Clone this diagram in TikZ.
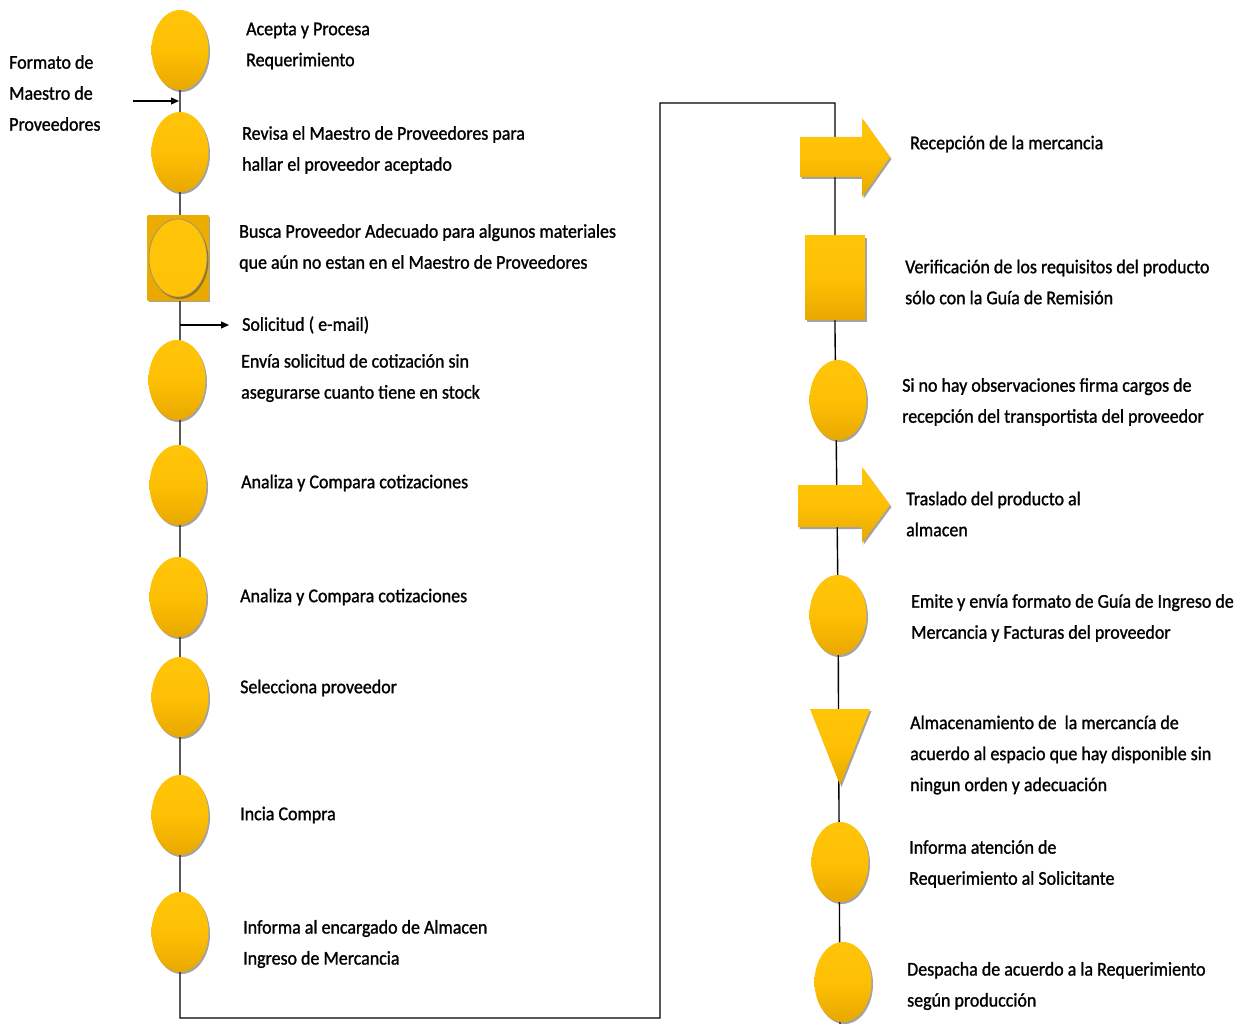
\documentclass[tikz,border=0pt]{standalone}
\usepackage{fontspec}
\setmainfont{Carlito}[FakeStretch=0.92,FakeBold=1.2]
\usetikzlibrary{arrows.meta,shapes.geometric,shadows}
\definecolor{goldtop}{RGB}{255,196,8}
\definecolor{goldmid}{RGB}{254,192,4}
\definecolor{goldbot}{RGB}{232,168,0}
\definecolor{golddeep}{RGB}{236,172,0}
\tikzset{
  gshadow/.style={drop shadow={shadow xshift=1.5pt,shadow yshift=-2pt,opacity=0.45,fill=black!80}},
  goldfill/.style={top color=goldtop,bottom color=goldbot,middle color=goldmid},
  ell/.style={ellipse,minimum width=57pt,minimum height=80pt,inner sep=0pt,goldfill,gshadow},
  sq/.style={rectangle,inner sep=0pt,goldfill,gshadow},
  lbl/.style={anchor=west,align=left,inner sep=0pt,
    font=\fontsize{19.5}{31}\selectfont},
  conn/.style={line width=1.4pt,black},
  tip/.style={-{Triangle[length=8pt,width=7pt]}},
  shp/.style={goldfill,gshadow},
}
\begin{document}
\begin{tikzpicture}[x=1pt,y=-1pt]
\useasboundingbox (0,0) rectangle (1245,1024);

% ---- main flow line
\coordinate (l0) at (180,40);
\coordinate (l1) at (180,1018);
\coordinate (r0) at (660,103);
\coordinate (r1) at (835,103);
\coordinate (rend) at (840,1024);
\draw[conn] (l0) -- (l1) -- (660,1018) -- (r0) -- (r1) -- (835,330) -- (838,600) -- (rend);

% ---- left column
\node[ell] (c1) at (180,50) {};
\node[ell] (c2) at (180,152) {};
\node[sq,minimum width=61pt,minimum height=85pt,top color=golddeep,bottom color=goldbot,middle color=golddeep] (b3) at (178,258) {};
\node[ell,minimum width=58pt,minimum height=78pt,draw=black!45,line width=0.6pt,
  top color=goldtop,bottom color=goldmid,middle color=goldtop] (c3) at (178,258) {};
\node[ell] (c4) at (177,380) {};
\node[ell] (c5) at (178,485) {};
\node[ell] (c6) at (178,597) {};
\node[ell] (c7) at (180,697) {};
\node[ell] (c8) at (180,815) {};
\node[ell] (c9) at (180,932) {};

% side inputs and outputs
\coordinate (in0) at (133,101);
\coordinate (in1) at (179,101);
\draw[conn,line width=1.1pt,tip] (in0) -- (in1);
\coordinate (out0) at (180,325);
\coordinate (out1) at (229,325);
\draw[conn,line width=1.1pt,tip] (out0) -- (out1);

% ---- right column
\path[shp] (800,137) -- (862,137) -- (862,118) -- (890,157) -- (862,197) -- (862,177) -- (800,177) -- cycle;
\node[sq,minimum width=60pt,minimum height=84pt] (s2) at (835,278) {};
\node[ell] (d3) at (838,400) {};
\path[shp] (798,485) -- (862,485) -- (862,467) -- (890,505) -- (862,543) -- (862,527) -- (798,527) -- cycle;
\node[ell] (d5) at (838,615) {};
\path[shp] (810,709) -- (870,709) -- (840,785) -- cycle;
\node[ell] (d7) at (840,862) {};
\node[ell] (d8) at (843,982) {};

% ---- labels
\node[lbl] (t0) at (9,93) {Formato de\\Maestro de\\Proveedores};
\node[lbl] (t1) at (246,46) {Acepta y Procesa\\Requerimiento};
\node[lbl] (t2) at (242,150) {Revisa el Maestro de Proveedores para\\hallar el proveedor aceptado};
\node[lbl] (t3) at (239,248) {Busca Proveedor Adecuado para algunos materiales\\que aún no estan en el Maestro de Proveedores};
\node[lbl] (t4) at (242,325) {Solicitud ( e-mail)};
\node[lbl] (t5) at (241,378) {Envía solicitud de cotización sin\\asegurarse cuanto tiene en stock};
\node[lbl] (t6) at (241,483) {Analiza y Compara cotizaciones};
\node[lbl] (t7) at (240,597) {Analiza y Compara cotizaciones};
\node[lbl] (t8) at (240,688) {Selecciona proveedor};
\node[lbl] (t9) at (240,815) {Incia Compra};
\node[lbl] (t10) at (243,944) {Informa al encargado de Almacen\\Ingreso de Mercancia};

\node[lbl] (u1) at (910,144) {Recepción de la mercancia};
\node[lbl] (u2) at (905,282) {Verificación de los requisitos del producto\\sólo con la Guía de Remisión};
\node[lbl] (u3) at (902,402) {Si no hay observaciones firma cargos de\\recepción del transportista del proveedor};
\node[lbl] (u4) at (906,514) {Traslado del producto al\\almacen};
\node[lbl] (u5) at (911,618) {Emite y envía formato de Guía de Ingreso de\\Mercancia y Facturas del proveedor};
\node[lbl] (u6) at (910,755) {Almacenamiento de ~la mercancía de\\acuerdo al espacio que hay disponible sin\\ningun orden y adecuación};
\node[lbl] (u7) at (909,864) {Informa atención de\\Requerimiento al Solicitante};
\node[lbl] (u8) at (907,986) {Despacha de acuerdo a la Requerimiento\\según producción};
\end{tikzpicture}
\end{document}
